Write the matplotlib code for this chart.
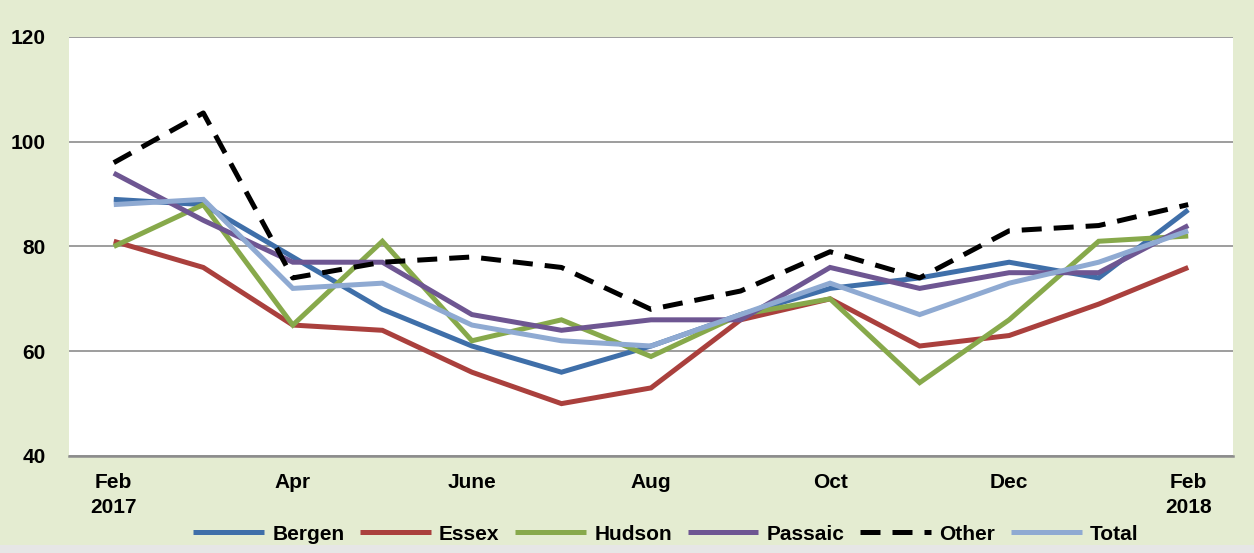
import matplotlib
matplotlib.use("Agg")
import matplotlib.pyplot as plt
from matplotlib.patches import Rectangle

# Monthly index values by county, Feb 2017 - Feb 2018
months = ["Feb\n2017", "Mar", "Apr", "May", "June", "July", "Aug",
          "Sep", "Oct", "Nov", "Dec", "Jan", "Feb\n2018"]
bergen  = [89, 88, 78, 68, 61, 56, 61, 67, 72, 74, 77, 74, 87]
essex   = [81, 76, 65, 64, 56, 50, 53, 66, 70, 61, 63, 69, 76]
hudson  = [80, 88, 65, 81, 62, 66, 59, 67, 70, 54, 66, 81, 82]
passaic = [94, 85, 77, 77, 67, 64, 66, 66, 76, 72, 75, 75, 84]
other   = [96, 105.5, 74, 77, 78, 76, 68, 71.5, 79, 74, 83, 84, 88]
total   = [88, 89, 72, 73, 65, 62, 61, 67, 73, 67, 73, 77, 83]

series = [
    ("Bergen", bergen, "#3F6FA9", "-"),
    ("Essex", essex, "#AA403D", "-"),
    ("Hudson", hudson, "#87A94B", "-"),
    ("Passaic", passaic, "#6E5692", "-"),
    ("Other", other, "#000000", "--"),
    ("Total", total, "#8FAAD2", "-"),
]
label_idx = [0, 2, 4, 6, 8, 10, 12]

plt.rcParams["font.family"] = ["Liberation Sans", "DejaVu Sans"]
plt.rcParams["font.weight"] = "bold"

fig = plt.figure(figsize=(12.54, 5.53), dpi=100)
fig.patch.set_facecolor("#E4ECD1")
# light grey strip along the bottom edge
fig.add_artist(Rectangle((0, 0), 1, 8 / 553, transform=fig.transFigure,
                         facecolor="#E6E6E6", edgecolor="none", zorder=0))

ax = fig.add_axes([69 / 1254, 1 - 456 / 553, (1233 - 69) / 1254, (456 - 37) / 553])
ax.set_facecolor("white")

x = list(range(len(months)))
for name, vals, color, ls in series:
    if ls == "--":
        ax.plot(x, vals, color=color, lw=3.6, linestyle=(0, (4.0, 2.4)),
                dash_capstyle="butt", label=name, zorder=3)
    else:
        ax.plot(x, vals, color=color, lw=3.6, solid_capstyle="butt",
                solid_joinstyle="miter", label=name, zorder=3)

ax.set_xlim(-0.5, len(months) - 0.5)
ax.set_ylim(40, 120)
ax.set_yticks([40, 60, 80, 100, 120])
ax.set_xticks([x[i] for i in label_idx])
ax.set_xticklabels([months[i] for i in label_idx], linespacing=1.45)

ax.grid(axis="y", color="#8C8C8C", lw=1.2, zorder=1)
ax.set_axisbelow(True)
for side in ("left", "right", "top"):
    ax.spines[side].set_visible(False)
ax.spines["bottom"].set_color("#8C8C8C")
ax.spines["bottom"].set_linewidth(1.8)

ax.tick_params(axis="both", length=0, labelsize=15)
ax.tick_params(axis="y", pad=17)
ax.tick_params(axis="x", pad=12)

leg = fig.legend(loc="center", bbox_to_anchor=(0.531, 0.034), ncol=6,
                 frameon=False, fontsize=15, handlelength=3.4,
                 handletextpad=0.4, columnspacing=0.75)

fig.savefig("out.png", dpi=100, facecolor=fig.get_facecolor())
